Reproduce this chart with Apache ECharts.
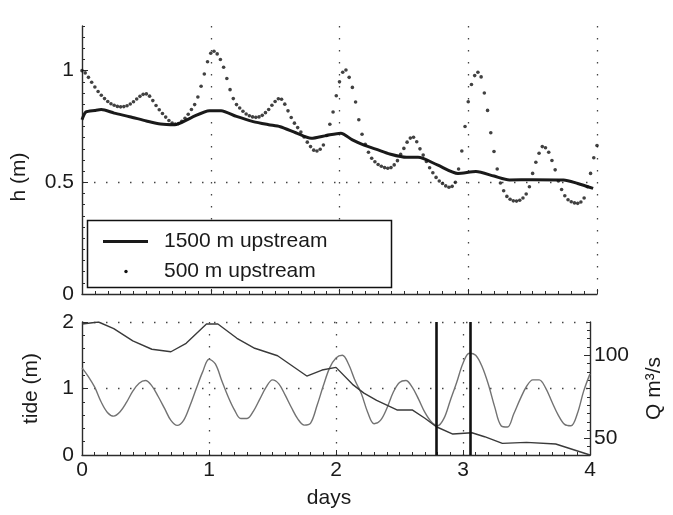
<!DOCTYPE html>
<html>
<head>
<meta charset="utf-8">
<script src="https://cdn.jsdelivr.net/npm/echarts@6/dist/echarts.min.js"></script>
<style>
  html, body { margin: 0; padding: 0; background: #fff; }
  #chart { width: 673px; height: 515px; }
</style>
</head>
<body>
<div id="chart"></div>
<script>
// ---- water level 1500 m upstream (days, metres) ----
const days1500 = [0, 0.03, 0.10, 0.15, 0.25, 0.37, 0.50, 0.61, 0.72, 0.85, 0.99, 1.08, 1.20, 1.33, 1.45, 1.54,
  1.66, 1.78, 1.90, 2.01, 2.10, 2.19, 2.30, 2.39, 2.52, 2.61, 2.76, 2.92, 3.06, 3.20, 3.32, 3.50, 3.74, 3.85, 3.97];
const h1500 = [0.78, 0.815, 0.822, 0.826, 0.81, 0.794, 0.775, 0.761, 0.758, 0.79, 0.821, 0.821, 0.795, 0.772, 0.758, 0.749,
  0.722, 0.697, 0.71, 0.720, 0.69, 0.667, 0.645, 0.627, 0.612, 0.612, 0.578, 0.540, 0.548, 0.528, 0.511, 0.512, 0.511, 0.495, 0.473];

// ---- water level 500 m upstream, sampled every 0.025 day from day 0 ----
const h500Step = 0.025;
const h500 = [
  1.000, 0.990, 0.970, 0.948, 0.927, 0.907, 0.890, 0.875, 0.862, 0.852,
  0.845, 0.840, 0.838, 0.839, 0.843, 0.851, 0.861, 0.873, 0.885, 0.894,
  0.896, 0.886, 0.866, 0.844, 0.825, 0.808, 0.792, 0.777, 0.766, 0.761,
  0.763, 0.773, 0.787, 0.805, 0.826, 0.848, 0.882, 0.930, 0.985, 1.040,
  1.078, 1.087, 1.075, 1.050, 1.015, 0.965, 0.915, 0.875, 0.848, 0.833,
  0.818, 0.806, 0.798, 0.793, 0.791, 0.793, 0.800, 0.812, 0.826, 0.845,
  0.862, 0.874, 0.872, 0.850, 0.820, 0.790, 0.765, 0.745, 0.725, 0.703,
  0.680, 0.660, 0.644, 0.640, 0.648, 0.667, 0.710, 0.760, 0.815, 0.888,
  0.950, 0.993, 1.003, 0.970, 0.925, 0.860, 0.780, 0.715, 0.670, 0.635,
  0.608, 0.592, 0.580, 0.572, 0.566, 0.563, 0.566, 0.578, 0.597, 0.625,
  0.652, 0.680, 0.698, 0.702, 0.682, 0.650, 0.622, 0.593, 0.565, 0.543,
  0.522, 0.506, 0.495, 0.484, 0.478, 0.482, 0.500, 0.560, 0.640, 0.750,
  0.861, 0.938, 0.978, 0.993, 0.972, 0.900, 0.822, 0.722, 0.638, 0.560,
  0.497, 0.462, 0.437, 0.424, 0.417, 0.416, 0.420, 0.430, 0.448, 0.480,
  0.540, 0.590, 0.630, 0.660, 0.655, 0.635, 0.598, 0.556, 0.506, 0.468,
  0.440, 0.422, 0.413, 0.408, 0.406, 0.412, 0.430, 0.480, 0.540, 0.610,
  0.665
];

// ---- tide at the mouth, sampled every 0.05 day from day 0 ----
const tideStep = 0.05;
const tide = [
  1.31, 1.18, 1.02, 0.80, 0.64, 0.585, 0.65, 0.79, 0.96, 1.08,
  1.12, 1.04, 0.88, 0.70, 0.52, 0.445, 0.52, 0.74, 1.00, 1.25,
  1.44, 1.37, 1.12, 0.88, 0.68, 0.55, 0.55, 0.66, 0.84, 1.02,
  1.13, 1.07, 0.90, 0.71, 0.54, 0.45, 0.48, 0.74, 1.04, 1.31,
  1.46, 1.50, 1.36, 1.12, 0.92, 0.64, 0.47, 0.52, 0.70, 0.94,
  1.09, 1.12, 1.02, 0.84, 0.64, 0.50, 0.44, 0.55, 0.82, 1.09,
  1.38, 1.53, 1.50, 1.33, 1.06, 0.72, 0.44, 0.42, 0.62, 0.84,
  1.03, 1.13, 1.13, 1.01, 0.80, 0.60, 0.46, 0.44, 0.62, 0.96,
  1.22
];

// ---- river discharge (days, m3/s) ----
const qDays = [0, 0.13, 0.25, 0.40, 0.55, 0.70, 0.82, 0.98, 1.07, 1.22, 1.36, 1.54, 1.77, 1.89, 2.00,
  2.13, 2.22, 2.32, 2.48, 2.60, 2.70, 2.79, 2.92, 3.07, 3.17, 3.31, 3.50, 3.73, 4.00];
const qValues = [118.8, 120.0, 116.0, 108.6, 103.6, 102.1, 107.2, 118.8, 118.8, 110.2, 104.2, 99.7, 87.5, 91.1, 92.7,
  82.5, 77.2, 72.8, 67.1, 67.1, 62.1, 57.0, 52.6, 53.4, 51.0, 47.0, 47.6, 46.6, 40.0];

// ---- marked instants (days) ----
const markerDays = [2.79, 3.065];

// ---- names and tick labels ----
const seriesNames = ['1500 m upstream', '500 m upstream', 'tide', 'Q'];
const dayTicks = [0, 1, 2, 3, 4];
const hTicks = [0, 0.5, 1];
const tideTicks = [0, 1, 2];
const qTicks = [50, 100];

// ---- styling ----
const FONT = '"Liberation Sans", Arial, Helvetica, sans-serif';
const INK = '#1a1a1a';
const AXIS = '#2c2c2c';
const axisLineStyle = { color: AXIS, width: 1.4 };
const tickLine = { color: AXIS, width: 1 };
const dotted = { color: '#444', width: 1.3, type: [1.5, 10.5] };
const labelStyle = { fontSize: 21, fontFamily: FONT, color: INK };
const fmt = v => String(Math.round(v * 100) / 100);

const chart = echarts.init(document.getElementById('chart'), null, { renderer: 'canvas' });

const option = {
  animation: false,
  backgroundColor: '#fff',
  grid: [
    { left: 82, top: 26, width: 515, height: 268 },
    { left: 82, top: 322, width: 515, height: 133 }
  ],
  xAxis: [
    {
      gridIndex: 0, type: 'value', min: 0, max: 4, interval: 1,
      axisLine: { show: true, onZero: false, lineStyle: axisLineStyle },
      axisTick: { show: true, inside: true, length: 5, lineStyle: tickLine },
      minorTick: { show: true, splitNumber: 10, length: 3, lineStyle: tickLine },
      axisLabel: { show: false },
      splitLine: { show: true, showMinLine: false, showMaxLine: true, lineStyle: dotted }
    },
    {
      gridIndex: 1, type: 'value', min: 0, max: 4, interval: 1,
      name: 'days', nameLocation: 'middle', nameGap: 33,
      nameTextStyle: Object.assign({ padding: [0, 14, 0, 0] }, labelStyle),
      axisLine: { show: true, onZero: false, lineStyle: axisLineStyle },
      axisTick: { show: true, inside: true, length: 5, lineStyle: tickLine },
      minorTick: { show: true, splitNumber: 10, length: 3, lineStyle: tickLine },
      axisLabel: Object.assign({ margin: 5, customValues: dayTicks, formatter: fmt }, labelStyle),
      splitLine: { show: true, showMinLine: false, showMaxLine: false, lineStyle: dotted }
    }
  ],
  yAxis: [
    // h (m): line, labels and fine ticks
    {
      gridIndex: 0, type: 'value', position: 'left', min: 0, max: 1.2, interval: 0.05,
      name: 'h (m)', nameLocation: 'middle', nameGap: 52, nameRotate: 90,
      nameTextStyle: Object.assign({ padding: [0, 34, 0, 0] }, labelStyle),
      axisLine: { show: true, onZero: false, lineStyle: axisLineStyle },
      axisTick: { show: true, inside: true, length: 3, lineStyle: tickLine },
      axisLabel: Object.assign({ margin: 8, customValues: hTicks, formatter: fmt }, labelStyle),
      splitLine: { show: false }
    },
    // h (m): dotted grid and major ticks
    {
      gridIndex: 0, type: 'value', position: 'left', min: 0, max: 1.2, interval: 0.5,
      axisLine: { show: false },
      axisTick: { show: true, inside: true, length: 6, customValues: hTicks, lineStyle: tickLine },
      axisLabel: { show: false },
      splitLine: { show: true, showMinLine: false, showMaxLine: false, lineStyle: dotted }
    },
    // tide (m)
    {
      gridIndex: 1, type: 'value', position: 'left', min: 0, max: 2, interval: 0.2,
      name: 'tide (m)', nameLocation: 'middle', nameGap: 40, nameRotate: 90,
      nameTextStyle: labelStyle,
      axisLine: { show: true, onZero: false, lineStyle: axisLineStyle },
      axisTick: { show: true, inside: true, length: 3, lineStyle: tickLine },
      axisLabel: Object.assign({ margin: 8, customValues: tideTicks, formatter: fmt }, labelStyle),
      splitLine: { show: false }
    },
    {
      gridIndex: 1, type: 'value', position: 'left', min: 0, max: 2, interval: 1,
      axisLine: { show: false },
      axisTick: { show: true, inside: true, length: 6, customValues: tideTicks, lineStyle: tickLine },
      axisLabel: { show: false },
      splitLine: { show: true, showMinLine: false, showMaxLine: true, lineStyle: dotted }
    },
    // Q (m3/s)
    {
      gridIndex: 1, type: 'value', position: 'right', min: 40, max: 120, interval: 5,
      name: 'Q m³/s', nameLocation: 'middle', nameGap: 54, nameRotate: 90,
      nameTextStyle: labelStyle,
      axisLine: { show: true, onZero: false, lineStyle: axisLineStyle },
      axisTick: { show: true, inside: true, length: 3, lineStyle: tickLine },
      axisLabel: Object.assign({ margin: 4, customValues: qTicks, formatter: fmt }, labelStyle),
      splitLine: { show: false }
    },
    {
      gridIndex: 1, type: 'value', position: 'right', min: 40, max: 120, interval: 10,
      axisLine: { show: false },
      axisTick: { show: true, inside: true, length: 6, customValues: qTicks, lineStyle: tickLine },
      axisLabel: { show: false },
      splitLine: { show: false }
    }
  ],
  series: [
    {
      name: seriesNames[0], type: 'line', xAxisIndex: 0, yAxisIndex: 0,
      data: days1500.map((d, i) => [d, h1500[i]]),
      symbol: 'none', smooth: 0.25,
      lineStyle: { color: INK, width: 3 }, z: 3
    },
    {
      name: seriesNames[1], type: 'scatter', xAxisIndex: 0, yAxisIndex: 0,
      data: h500.map((v, i) => [i * h500Step, v]),
      symbol: 'circle', symbolSize: 3.6,
      itemStyle: { color: '#111' }, z: 4
    },
    {
      name: seriesNames[2], type: 'line', xAxisIndex: 1, yAxisIndex: 2,
      data: tide.map((v, i) => [i * tideStep, v]),
      symbol: 'none', smooth: 0.35,
      lineStyle: { color: '#727272', width: 1.4 }, z: 3,
      markLine: {
        silent: true, symbol: ['none', 'none'],
        label: { show: false },
        lineStyle: { color: '#111', width: 2.6, type: 'solid' },
        data: markerDays.map(d => ({ xAxis: d }))
      }
    },
    {
      name: seriesNames[3], type: 'line', xAxisIndex: 1, yAxisIndex: 4,
      data: qDays.map((d, i) => [d, qValues[i]]),
      symbol: 'none',
      lineStyle: { color: '#3a3a3a', width: 1.4 }, z: 3
    }
  ],
  graphic: [
    { type: 'rect', z: 100, shape: { x: 87.5, y: 220.5, width: 304, height: 67 },
      style: { fill: '#fff', stroke: '#111', lineWidth: 1.5 } },
    { type: 'line', z: 101, shape: { x1: 103, y1: 241.5, x2: 148, y2: 241.5 },
      style: { stroke: INK, lineWidth: 3 } },
    { type: 'circle', z: 101, shape: { cx: 126, cy: 271.5, r: 1.7 },
      style: { fill: '#111' } },
    { type: 'text', z: 101, x: 164, y: 241.5,
      style: { text: seriesNames[0], fontSize: 21, fontFamily: FONT, fill: INK, verticalAlign: 'middle' } },
    { type: 'text', z: 101, x: 164, y: 271.5,
      style: { text: seriesNames[1], fontSize: 21, fontFamily: FONT, fill: INK, verticalAlign: 'middle' } }
  ]
};

chart.setOption(option);
</script>
</body>
</html>
